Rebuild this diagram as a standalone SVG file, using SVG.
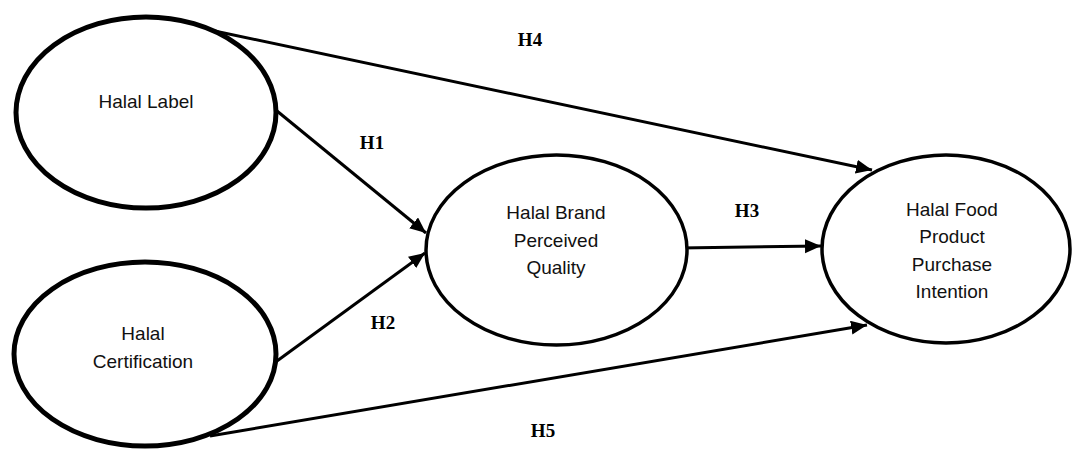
<svg xmlns="http://www.w3.org/2000/svg" width="1072" height="450" viewBox="0 0 1072 450">
<style>
.node{fill:#fff;stroke:#000}
.thick{stroke-width:5}
.thin{stroke-width:3.5}
.lbl{font-family:"Liberation Sans",Arial,sans-serif;font-size:19px;fill:#111;text-anchor:middle}
.h{font-family:"Liberation Serif","Times New Roman",serif;font-size:19px;font-weight:bold;fill:#000;text-anchor:middle}
.edge{stroke:#000;stroke-width:3;fill:none;marker-end:url(#arr)}
</style>
<defs>
<marker id="arr" markerUnits="userSpaceOnUse" markerWidth="17" markerHeight="15" refX="16" refY="7" orient="auto">
<path d="M0,0 L16,7 L0,14 z" fill="#000"/>
</marker>
</defs>
<g id="connectors">
<line class="edge" x1="210" y1="30" x2="872" y2="170"/>
<line class="edge" x1="266" y1="102" x2="426" y2="233"/>
<line class="edge" x1="266" y1="369" x2="425" y2="253"/>
<line class="edge" x1="680" y1="248" x2="821" y2="246"/>
<line class="edge" x1="210" y1="436" x2="867" y2="325"/>
</g>
<g id="halal-label">
<ellipse class="node thick" cx="146" cy="112.5" rx="130" ry="95.5"/>
<text class="lbl" x="146" y="108">Halal Label</text>
</g>
<g id="halal-certification">
<ellipse class="node thick" cx="145" cy="354" rx="131" ry="92"/>
<text class="lbl" x="143" y="340">Halal</text>
<text class="lbl" x="143" y="368">Certification</text>
</g>
<g id="halal-brand">
<ellipse class="node thin" cx="556.5" cy="250" rx="130.5" ry="95"/>
<text class="lbl" x="556" y="219">Halal Brand</text>
<text class="lbl" x="556" y="247">Perceived</text>
<text class="lbl" x="556" y="274">Quality</text>
</g>
<g id="purchase-intention">
<ellipse class="node thin" cx="946" cy="249" rx="124" ry="94"/>
<text class="lbl" x="952" y="216">Halal Food</text>
<text class="lbl" x="952" y="243">Product</text>
<text class="lbl" x="952" y="271">Purchase</text>
<text class="lbl" x="952" y="298">Intention</text>
</g>
<g id="labels">
<text class="h" x="530" y="46">H4</text>
<text class="h" x="372" y="149">H1</text>
<text class="h" x="747" y="217">H3</text>
<text class="h" x="383" y="329">H2</text>
<text class="h" x="543" y="437">H5</text>
</g>
</svg>
